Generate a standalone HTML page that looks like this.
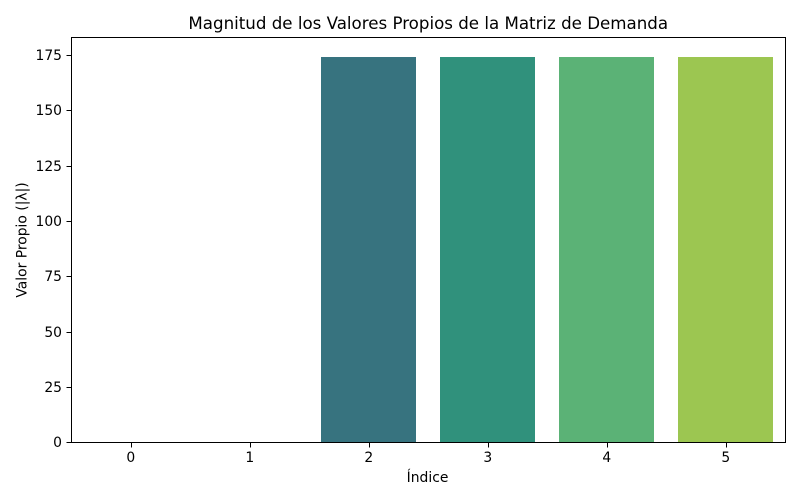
<!DOCTYPE html>
<html lang="es">
<head>
<meta charset="utf-8">
<title>Magnitud de los Valores Propios de la Matriz de Demanda</title>
<style>
html,body{margin:0;padding:0;background:#fff;}
svg{display:block;}
text{font-family:"DejaVu Sans","Liberation Sans",sans-serif;fill:#000;}
#bars rect{shape-rendering:crispEdges;}
#x-ticks line,#y-ticks line,#axes-frame{shape-rendering:crispEdges;}
</style>
</head>
<body>
<svg id="chart" xmlns="http://www.w3.org/2000/svg" width="800" height="500" viewBox="0 0 800 500">
  <rect x="0" y="0" width="800" height="500" fill="#ffffff"/>
  <g id="bars"></g>
  <g id="x-ticks"></g>
  <g id="y-ticks"></g>
  <rect id="axes-frame" x="71.5" y="37.5" width="714" height="405" fill="none" stroke="#000" stroke-width="1"/>
  <text x="428.25" y="29" text-anchor="middle" font-size="16.67">Magnitud de los Valores Propios de la Matriz de Demanda</text>
  <text x="427.5" y="482" text-anchor="middle" font-size="13.89">Índice</text>
  <text transform="translate(26.5,240) rotate(-90)" text-anchor="middle" font-size="13.89">Valor Propio (|λ|)</text>
</svg>
<script>
const categories = ["0", "1", "2", "3", "4", "5"];
const magnitudes = [0.0, 0.0, 174.2, 174.2, 174.2, 174.2];
const yTickValues = [0, 25, 50, 75, 100, 125, 150, 175];
const barColors = ["#4a3578", "#465a85", "#37737f", "#30917c", "#5bb276", "#9cc651"];

const plotLeft = 71.3, plotRight = 785.3, plotTop = 37.4, plotBottom = 442.2;
const xMin = -0.5, xMax = categories.length - 0.5;
const yMax = Math.max(...magnitudes) * 1.05;
const barWidth = 0.8;
const NS = "http://www.w3.org/2000/svg";

function xScale(v) { return plotLeft + (v - xMin) / (xMax - xMin) * (plotRight - plotLeft); }
function yScale(v) { return plotBottom - v / yMax * (plotBottom - plotTop); }
function snapLine(p) { return Math.round(p) + 0.5; }

const barsGroup = document.getElementById("bars");
const xTicksGroup = document.getElementById("x-ticks");
const yTicksGroup = document.getElementById("y-ticks");

magnitudes.forEach(function (value, i) {
  const left = Math.round(xScale(i - barWidth / 2));
  const right = Math.round(xScale(i + barWidth / 2));
  const top = Math.round(yScale(value));
  const rect = document.createElementNS(NS, "rect");
  
  
  rect.setAttribute("x", left);
  rect.setAttribute("y", top);
  rect.setAttribute("width", right - left);
  rect.setAttribute("height", Math.max(0, Math.round(plotBottom) - top));
  rect.setAttribute("fill", barColors[i]);
  barsGroup.appendChild(rect);
});

categories.forEach(function (label, i) {
  const x = xScale(i);
  const tick = document.createElementNS(NS, "line");
  
  
  tick.setAttribute("x1", snapLine(x));
  tick.setAttribute("x2", snapLine(x));
  tick.setAttribute("y1", 442.5);
  tick.setAttribute("y2", 447.5);
  tick.setAttribute("stroke", "#000");
  tick.setAttribute("stroke-width", "1");
  xTicksGroup.appendChild(tick);
  const text = document.createElementNS(NS, "text");
  
  
  text.setAttribute("x", x);
  text.setAttribute("y", 462);
  text.setAttribute("text-anchor", "middle");
  text.setAttribute("font-size", "13.89");
  text.textContent = label;
  xTicksGroup.appendChild(text);
});

yTickValues.forEach(function (value) {
  const y = yScale(value);
  const tick = document.createElementNS(NS, "line");
  
  
  tick.setAttribute("x1", 66.5);
  tick.setAttribute("x2", 71.5);
  tick.setAttribute("y1", snapLine(y));
  tick.setAttribute("y2", snapLine(y));
  tick.setAttribute("stroke", "#000");
  tick.setAttribute("stroke-width", "1");
  yTicksGroup.appendChild(tick);
  const text = document.createElementNS(NS, "text");
  
  
  text.setAttribute("x", 62);
  text.setAttribute("y", Math.round(y) + 5);
  text.setAttribute("text-anchor", "end");
  text.setAttribute("font-size", "13.89");
  text.textContent = String(value);
  yTicksGroup.appendChild(text);
});
</script>
</body>
</html>
